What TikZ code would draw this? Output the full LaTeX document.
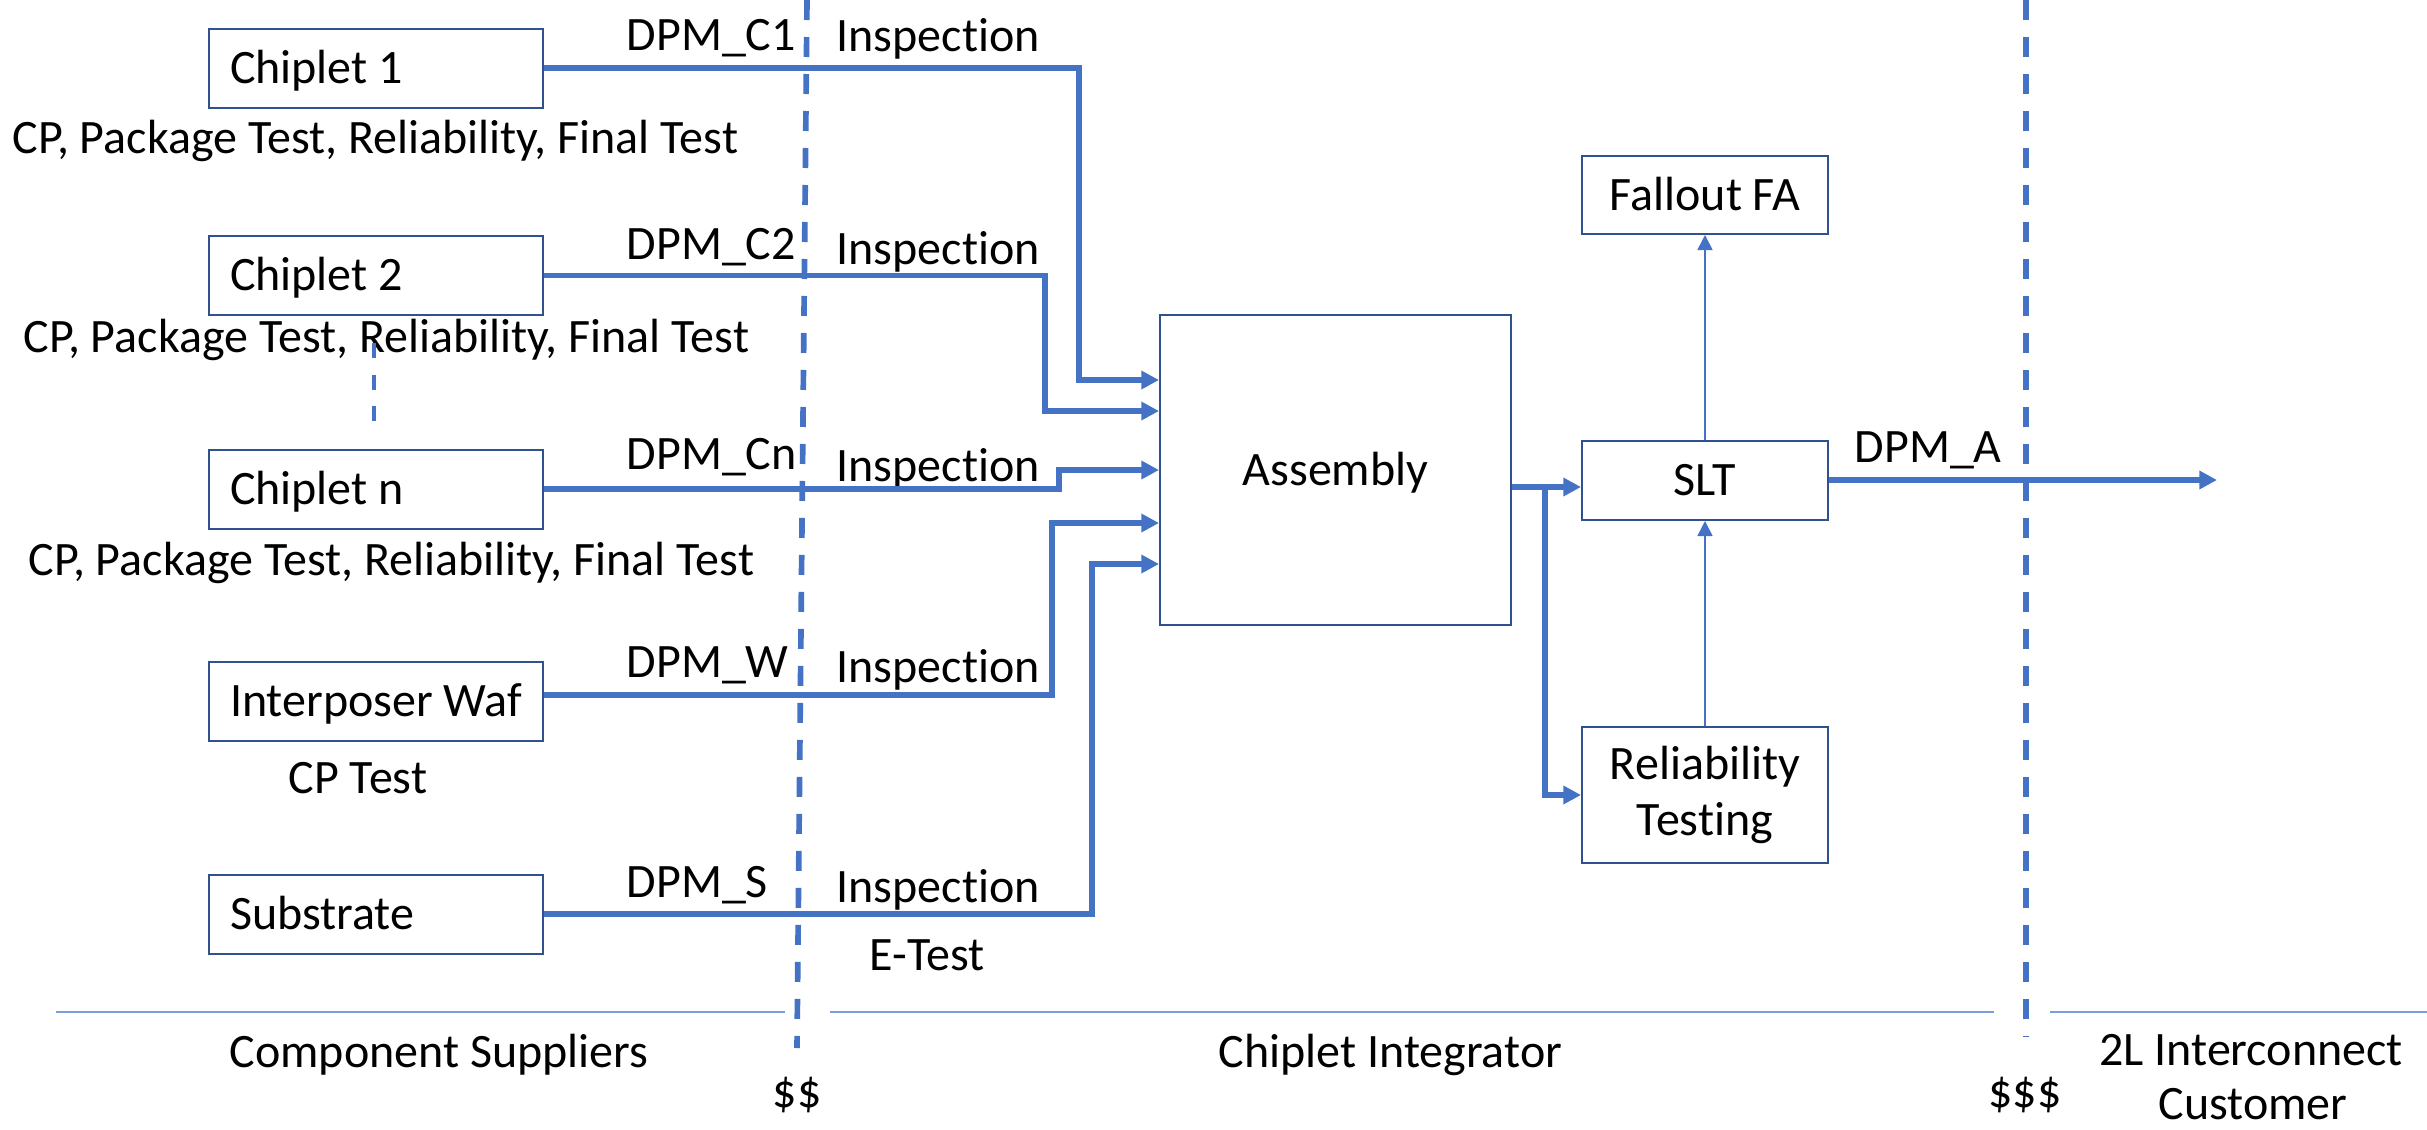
\documentclass[tikz,border=0pt]{standalone}
\usepackage{fontspec}
\setmainfont{Carlito}[Ligatures=NoCommon]
\usetikzlibrary{arrows.meta,calc}
\definecolor{lineblue}{HTML}{4472C4}
\definecolor{edgeblue}{HTML}{2F528F}
\definecolor{rulerblue}{HTML}{7A9EDD}

\begin{document}
\begin{tikzpicture}[x=0.3pt,y=-0.3pt,
  every node/.style={font=\fontsize{14.4}{17}\selectfont, inner sep=0pt},
  oneline/.style={text height=9pt, text depth=0pt},
  srcbox/.style={oneline, draw=edgeblue, line width=0.6pt, minimum width=100.2pt,
    minimum height=23.7pt, text width=87.6pt, align=flush left, inner xsep=6.3pt},
  procbox/.style={draw=edgeblue, line width=0.6pt, align=center, minimum width=73.8pt},
  flow/.style={draw=lineblue, line width=1.6pt, -{Triangle[length=5.3pt,width=5.3pt]}},
  thinflow/.style={draw=lineblue, line width=0.5pt, -{Triangle[length=4.5pt,width=4.5pt]}},
  divider/.style={draw=lineblue, line width=1.7pt, dash pattern=on 6pt off 5.1pt},
  gapmark/.style={draw=lineblue, line width=1.3pt, dash pattern=on 4.5pt off 5pt},
  sepline/.style={draw=rulerblue, line width=0.6pt},
  tag/.style={anchor=base west}
]
\useasboundingbox (0,0) rectangle (2427,1129);

% supplier components
\node[srcbox] (c1)  at (376,68)    {Chiplet 1};
\node[srcbox] (c2)  at (376,275.5) {Chiplet 2};
\node[srcbox] (cn)  at (376,489)   {Chiplet n};
\node[srcbox] (ip)  at (376,701.5) {Interposer Waf};
\node[srcbox] (sub) at (376,914)   {Substrate};

% supplier test notes
\node[tag] (t1) at (12,153)  {CP, Package Test, Reliability, Final Test};
\node[tag] (t2) at (23,352)  {CP, Package Test, Reliability, Final Test};
\node[tag] (t3) at (28,575)  {CP, Package Test, Reliability, Final Test};
\node[tag] (t4) at (288,793) {CP Test};
\node[tag] (t5) at (869,970) {E-Test};

% integrator steps
\node[procbox, oneline, minimum width=105.3pt, minimum height=93pt] (asm) at (1335.5,470) {Assembly};
\node[procbox, oneline, minimum height=23.7pt] (slt) at (1705,480.5) {SLT};
\node[procbox, oneline, minimum height=23.4pt] (fa)  at (1705,195)   {Fallout FA};
\node[procbox, minimum height=40.8pt] (rel) at (1705,795)   {Reliability\\Testing};

% DPM labels and inspection points
\node[tag] (d1) at (626,50)  {DPM\_C1};
\node[tag] (d2) at (626,259) {DPM\_C2};
\node[tag] (d3) at (626,469) {DPM\_Cn};
\node[tag] (d4) at (626,677) {DPM\_W};
\node[tag] (d5) at (626,897) {DPM\_S};
\node[tag] (i1) at (836,51)  {Inspection};
\node[tag] (i2) at (836,264) {Inspection};
\node[tag] (i3) at (836,481) {Inspection};
\node[tag] (i4) at (836,682) {Inspection};
\node[tag] (i5) at (836,902) {Inspection};
\node[tag] (da) at (1854,462) {DPM\_A};

% bends of the feed lines
\coordinate (k1) at (1079,380);
\coordinate (k2) at (1045,411);
\coordinate (k3) at (1059,470);
\coordinate (k4) at (1052,523);
\coordinate (k5) at (1092,564);
\coordinate (j)  at (1545,487);
\coordinate (out) at (2217,480);

\draw[flow] (c1.east) -| (k1) -- (k1 -| asm.west);
\draw[flow] (c2.east) -| (k2) -- (k2 -| asm.west);
\draw[flow] (cn.east) -| (k3) -- (k3 -| asm.west);
\draw[flow] ([yshift=1.95pt]ip.east) -| (k4) -- (k4 -| asm.west);
\draw[flow] (sub.east) -| (k5) -- (k5 -| asm.west);

\draw[flow] (asm.east |- j) -- (slt.west |- j);
\draw[flow] (j) |- (rel.west);
\draw[flow] (slt.east |- out) -- (out);
\draw[thinflow] (rel.north) -- (slt.south);
\draw[thinflow] (slt.north) -- (fa.south);

% boundaries between the parties
\draw[divider] (807,0) -- (797,1048);
\draw[divider] (2026,0) -- (2026,1037);
\draw[gapmark] (374,343) -- (374,422);
\draw[sepline] (56,1012) -- (785,1012);
\draw[sepline] (830,1012) -- (1994,1012);
\draw[sepline] (2050,1012) -- (2427,1012);

% party names
\node[tag] (p1) at (229,1067)  {Component Suppliers};
\node[tag] (p2) at (1218,1067) {Chiplet Integrator};
\node[anchor=base] (p3) at (2251,1065) {2L Interconnect};
\node[anchor=base] (p4) at (2253,1119) {Customer};
\node[anchor=base] (m1) at (797,1107)  {\$\$};
\node[anchor=base] (m2) at (2025,1107) {\$\$\$};
\end{tikzpicture}
\end{document}
